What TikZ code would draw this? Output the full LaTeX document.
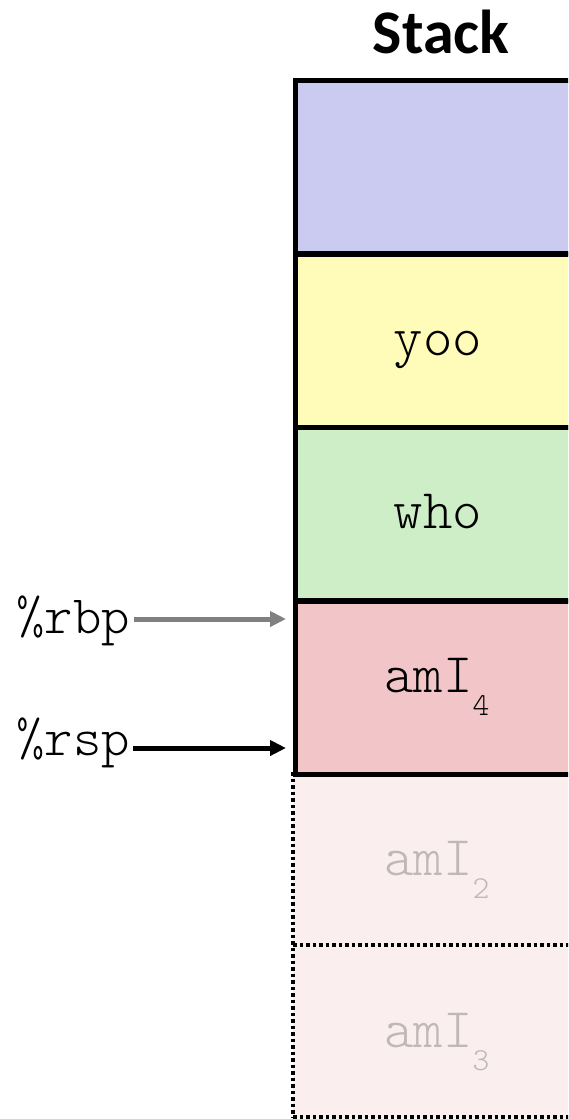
\documentclass[tikz,border=0pt]{standalone}
\usepackage{fontspec}
\newfontfamily\monofont{Latin Modern Mono Light}
\newfontfamily\titlefont{Carlito}
\usetikzlibrary{arrows.meta}
\definecolor{cblue}{RGB}{203,203,242}
\definecolor{cyellow}{RGB}{255,251,185}
\definecolor{cgreen}{RGB}{206,238,200}
\definecolor{cpink}{RGB}{242,198,200}
\definecolor{cfaded}{RGB}{250,238,238}
\definecolor{cfadetext}{RGB}{192,184,184}
\definecolor{cgrayarrow}{RGB}{128,128,128}
\newcommand{\subnum}[1]{{\fontsize{32}{32}\selectfont\raisebox{-23pt}{#1}}}
\tikzset{
  frame/.style={draw=black, line width=5pt, minimum width=310pt, minimum height=173pt, anchor=north west, inner sep=0pt},
  fadebox/.style={fill=cfaded, draw=none, minimum width=310pt, minimum height=173pt, anchor=north west, inner sep=0pt},
  dotline/.style={line width=3.5pt, dash pattern=on 3.5pt off 3pt},
  celltext/.style={font=\monofont\fontsize{56}{56}\selectfont, anchor=base, inner sep=0pt},
  regtext/.style={font=\monofont\fontsize{54}{54}\selectfont, anchor=base east, inner sep=0pt},
  ptr/.style={line width=5pt, -{Triangle[length=16pt,width=15pt]}},
}
\begin{document}
\begin{tikzpicture}[x=1pt,y=-1pt]
\path[use as bounding box] (0,0) rectangle (568,1119);
\clip (0,0) rectangle (568,1119);
% faded boxes
\node[fadebox] (f1) at (293,772) {};
\node[fadebox] (f2) at (293,945) {};
\draw[dotline] (293,772) -- (293,1117);
\draw[dotline] (293,945) -- (600,945);
\draw[dotline] (293,1117) -- (600,1117);
% solid boxes
\node[frame, fill=cblue] (b1) at (293,78) {};
\node[frame, fill=cyellow] (b2) at (293,252) {};
\node[frame, fill=cgreen] (b3) at (293,425) {};
\node[frame, fill=cpink] (b4) at (293,599) {};
% title
\node[font=\titlefont\bfseries\fontsize{62}{62}\selectfont, anchor=base, inner sep=0pt] (title) at (441,53) {Stack};
% cell texts
\node[celltext] (t2) at (438,355) {yoo};
\node[celltext] (t3) at (438,528) {who};
\node[celltext] (t4) at (437,692) {amI\subnum{4}};
\node[celltext, text=cfadetext] (t5) at (437,875) {amI\subnum{2}};
\node[celltext, text=cfadetext] (t6) at (437,1047) {amI\subnum{3}};
% registers
\node[regtext] (rbp) at (130,633) {\%rbp};
\node[regtext] (rsp) at (130,755) {\%rsp};
\coordinate (rbpend) at (286,619);
\coordinate (rspend) at (286,748);
\draw[ptr, draw=cgrayarrow] (rbp.east |- rbpend) ++(4,0) -- (rbpend);
\draw[ptr, draw=black] (rsp.east |- rspend) ++(3,0) -- (rspend);
\end{tikzpicture}
\end{document}
